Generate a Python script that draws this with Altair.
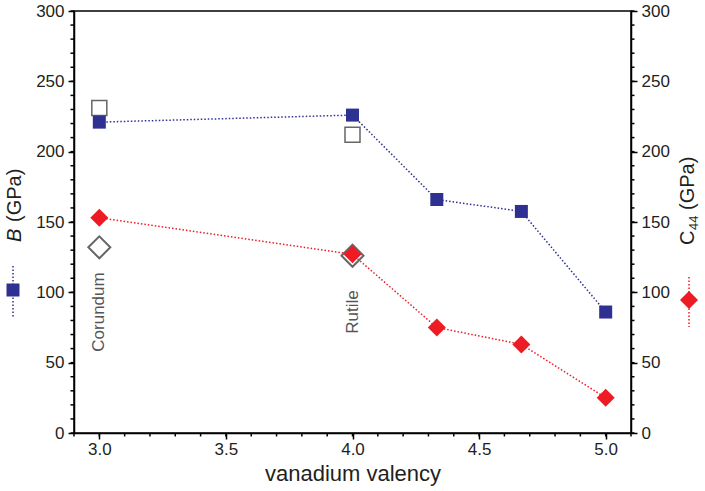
import altair as alt
import pandas as pd

# ---- data ----
valency = [3.0, 4.0, 4.333, 4.667, 5.0]
bulk_modulus = [221, 226, 166, 157.5, 86]
shear_c44 = [153, 127, 75, 63, 25]
ref_valency = [3.0, 4.0]
ref_bulk = [231, 212]
ref_c44 = [132, 126]
phase_names = ["Corundum", "Rutile"]
phase_label_y = [86, 86]

x_major = [3.0, 3.5, 4.0, 4.5, 5.0]
x_minor = [round(2.9 + 0.1 * i, 1) for i in range(23)]
y_major = [0, 50, 100, 150, 200, 250, 300]
y_minor = list(range(0, 301, 10))

BLUE = "#2e3192"
RED = "#ed1c24"
GRAY = "#666666"
TXT = "#231f20"
FONT = "Liberation Sans"
W, H = 557, 422

main = pd.DataFrame({"v": valency, "b": bulk_modulus, "c": shear_c44})
ref = pd.DataFrame({"v": ref_valency, "b": ref_bulk, "c": ref_c44})
ann = pd.DataFrame({"v": ref_valency, "b": phase_label_y, "t": phase_names})
xminor = pd.DataFrame({"v": x_minor})
yminor = pd.DataFrame({"b": y_minor})
one = pd.DataFrame({"a": [0]})

xs = alt.Scale(domain=[2.9, 5.1], nice=False, zero=False)
ys = alt.Scale(domain=[0, 300], nice=False, zero=False)

x_axis = alt.Axis(values=x_major, format=".1f", tickSize=6, labelPadding=2,
                  title="vanadium valency", titleFontSize=22, titleFontWeight="normal",
                  titlePadding=6, labelFlush=False, labelOverlap=False)
left_axis = alt.Axis(values=y_major, tickSize=6, labelPadding=4, title=None,
                     orient="left", labelOverlap=False, labelFlush=False)
right_axis = alt.Axis(values=y_major, tickSize=6, labelPadding=4, title=None,
                      orient="right", labelOverlap=False, labelFlush=False)

X = alt.X("v:Q", scale=xs, axis=x_axis)
YB = alt.Y("b:Q", scale=ys, axis=left_axis)
YC = alt.Y("c:Q", scale=ys, axis=right_axis)

dash = [1.5, 2]

# ---- left (B) layer ----
blue_line = alt.Chart(main).mark_line(color=BLUE, strokeWidth=1.5, strokeDash=dash).encode(x=X, y=YB)
blue_pts = alt.Chart(main).mark_point(shape="square", filled=True, size=169, color=BLUE,
                                      opacity=1).encode(x=X, y=YB)
open_sq = alt.Chart(ref).mark_point(shape="square", filled=False, size=225, color=GRAY,
                                    strokeWidth=1.5, opacity=1).encode(x=X, y=YB)
ann_text = alt.Chart(ann).mark_text(angle=270, align="center", baseline="middle", font=FONT,
                                    fontSize=17, color="#555555").encode(x=X, y=YB, text="t:N")
x_minor_ticks = alt.Chart(xminor).mark_rule(color="black", strokeWidth=1.5).encode(
    x=X, y=alt.value(H), y2=alt.value(H + 3.5))
y_minor_left = alt.Chart(yminor).mark_rule(color="black", strokeWidth=1.5).encode(
    y=YB, x=alt.value(-3.5), x2=alt.value(0))
y_minor_right = alt.Chart(yminor).mark_rule(color="black", strokeWidth=1.5).encode(
    y=YB, x=alt.value(W), x2=alt.value(W + 3.5))

left = alt.layer(blue_line, x_minor_ticks, y_minor_left, y_minor_right, ann_text, open_sq, blue_pts)

# ---- right (C44) layer ----
red_line = alt.Chart(main).mark_line(color=RED, strokeWidth=1.5, strokeDash=dash).encode(x=X, y=YC)
open_dia = alt.Chart(ref).mark_point(shape="diamond", filled=False, size=484, color=GRAY,
                                     strokeWidth=2, opacity=1).encode(x=X, y=YC)
red_pts = alt.Chart(main).mark_point(shape="diamond", filled=True, size=324, color=RED,
                                     opacity=1).encode(x=X, y=YC)
right = alt.layer(red_line, open_dia, red_pts)

# ---- axis titles with legend symbols ----
deco = alt.layer(
    alt.Chart(one).mark_rule(color=BLUE, strokeWidth=1.5, strokeDash=dash).encode(
        x=alt.value(-61), y=alt.value(255), y2=alt.value(306)),
    alt.Chart(one).mark_point(shape="square", filled=True, size=169, color=BLUE, opacity=1).encode(
        x=alt.value(-61), y=alt.value(279)),
    alt.Chart(one).mark_text(text="B", angle=270, align="left", baseline="middle", font=FONT,
                             fontSize=20, fontStyle="italic", color=TXT).encode(
        x=alt.value(-59), y=alt.value(231)),
    alt.Chart(one).mark_text(text="(GPa)", angle=270, align="left", baseline="middle", font=FONT,
                             fontSize=20, color=TXT).encode(
        x=alt.value(-59), y=alt.value(211)),
    alt.Chart(one).mark_rule(color=RED, strokeWidth=1.5, strokeDash=dash).encode(
        x=alt.value(615), y=alt.value(266), y2=alt.value(316)),
    alt.Chart(one).mark_point(shape="diamond", filled=True, size=324, color=RED, opacity=1).encode(
        x=alt.value(615), y=alt.value(289)),
    alt.Chart(one).mark_text(text="C", angle=270, align="left", baseline="middle", font=FONT,
                             fontSize=20, color=TXT).encode(
        x=alt.value(614), y=alt.value(234)),
    alt.Chart(one).mark_text(text="44", angle=270, align="left", baseline="middle", font=FONT,
                             fontSize=13, color=TXT).encode(
        x=alt.value(620), y=alt.value(219)),
    alt.Chart(one).mark_text(text="(GPa)", angle=270, align="left", baseline="middle", font=FONT,
                             fontSize=20, color=TXT).encode(
        x=alt.value(614), y=alt.value(199)),
)

chart = alt.layer(left, right, deco).resolve_scale(y="independent").properties(
    width=W, height=H,
    autosize=alt.AutoSizeParams(type="none"),
    padding={"left": 74, "top": 11, "right": 74, "bottom": 58},
    background="white",
).configure_axis(
    labelFont=FONT, labelFontSize=17, labelColor=TXT,
    titleFont=FONT, titleColor=TXT,
    domainColor="black", domainWidth=1.5,
    tickColor="black", tickWidth=1.5, grid=False,
).configure_view(stroke="black", strokeWidth=1.5)

chart.save("out.html", embed_options={"renderer": "svg", "actions": False})
